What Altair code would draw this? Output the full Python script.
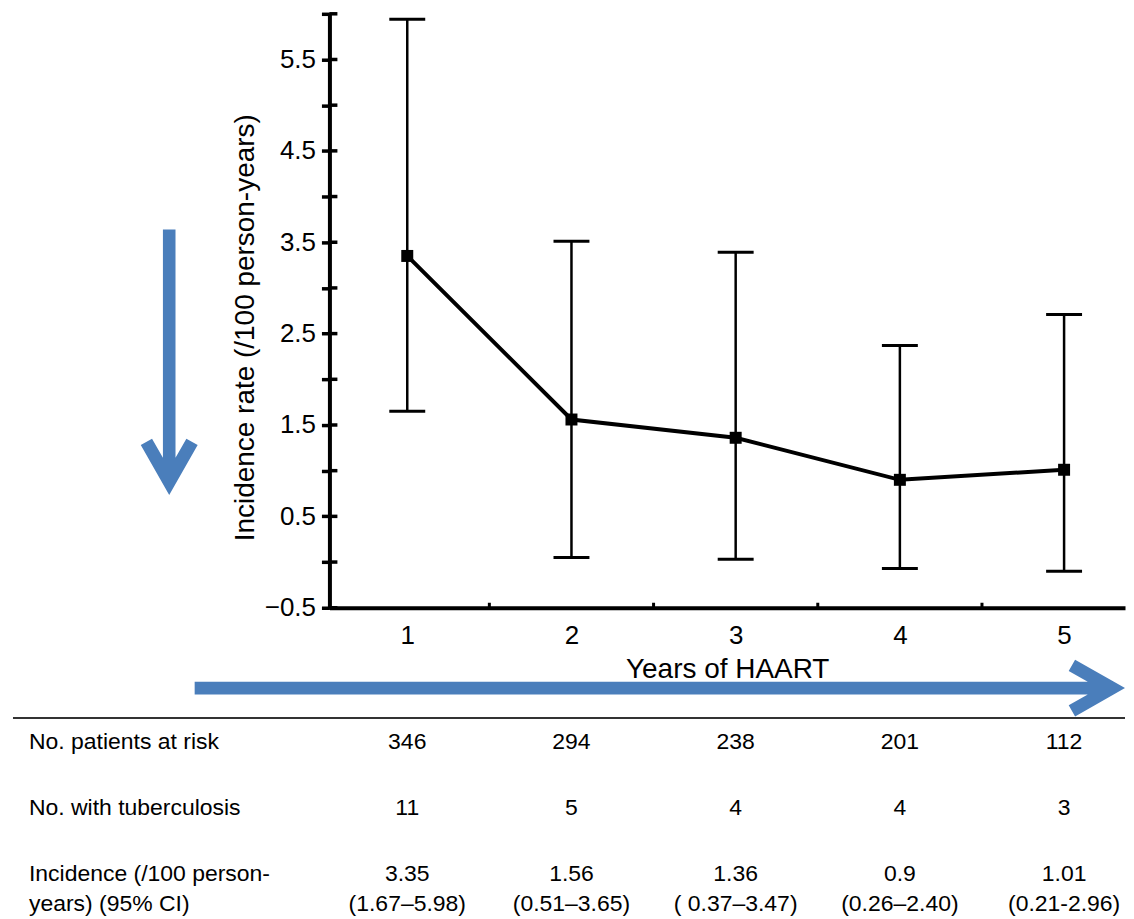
import altair as alt
import pandas as pd

# ---- data ----
years = [1, 2, 3, 4, 5]
incidence = [3.35, 1.56, 1.36, 0.9, 1.01]
ci_low = [1.65, 0.05, 0.03, -0.07, -0.10]
ci_high = [5.94, 3.51, 3.39, 2.37, 2.71]
patients_at_risk = ["346", "294", "238", "201", "112"]
with_tb = ["11", "5", "4", "4", "3"]
incidence_text = ["3.35", "1.56", "1.36", "0.9", "1.01"]
ci_text = ["(1.67–5.98)", "(0.51–3.65)", "( 0.37–3.47)", "(0.26–2.40)", "(0.21-2.96)"]
row_labels = ["No. patients at risk", "No. with tuberculosis",
              "Incidence (/100 person-", "years) (95% CI)"]
y_tick_values = [-0.5, 0, 0.5, 1, 1.5, 2, 2.5, 3, 3.5, 4, 4.5, 5, 5.5, 6]
x_tick_values = [1, 2, 3, 4, 5]
x_minor_ticks = [1.5, 2.5, 3.5, 4.5]
x_title = "Years of HAART"
y_title = "Incidence rate (/100 person-years)"

FONT = "Liberation Sans"
BLUE = "#4a7ebb"

df = pd.DataFrame({
    "year": years, "rate": incidence, "lo": ci_low, "hi": ci_high,
    "patients": patients_at_risk, "tb": with_tb,
    "inc": incidence_text, "ci": ci_text,
})
one = pd.DataFrame({"k": [0]})

xscale = alt.Scale(domain=[0.526, 5.371], nice=False, zero=False)
yscale = alt.Scale(domain=[-0.5, 6.0], nice=False, zero=False)

xaxis = alt.Axis(values=x_tick_values, format="d", ticks=False, tickSize=0,
                 domainWidth=4, domainColor="black", labelFont=FONT,
                 labelFontSize=26, labelColor="black", labelPadding=15,
                 labelFlush=False, title=x_title, titleFont=FONT,
                 titleFontSize=28, titleFontWeight="normal", titleColor="black",
                 titleY=48, grid=False)
yaxis = alt.Axis(values=y_tick_values, format=".1f",
                 labelExpr="abs(datum.value * 2) % 2 == 1 ? datum.label : ''",
                 tickSize=8, tickWidth=3.5, tickColor="black",
                 domainWidth=4, domainColor="black", labelFont=FONT,
                 labelFontSize=26, labelColor="black", labelPadding=6,
                 labelFlush=False, title=y_title, titleFont=FONT,
                 titleFontSize=28, titleFontWeight="normal", titleColor="black",
                 titleX=-70, titleY=314, grid=False)

x_enc = alt.X("year:Q", scale=xscale, axis=xaxis)
base = alt.Chart(df)

bars = base.mark_rule(color="black", strokeWidth=2.5).encode(
    x=x_enc, y=alt.Y("lo:Q", scale=yscale, axis=yaxis), y2="hi:Q")
cap_hi = base.mark_rule(color="black", strokeWidth=3, xOffset=-18, x2Offset=18).encode(
    x=x_enc, x2="year:Q", y=alt.Y("hi:Q", scale=yscale, axis=yaxis))
cap_lo = base.mark_rule(color="black", strokeWidth=3, xOffset=-18, x2Offset=18).encode(
    x=x_enc, x2="year:Q", y=alt.Y("lo:Q", scale=yscale, axis=yaxis))
line = base.mark_line(color="black", strokeWidth=4).encode(
    x=x_enc, y=alt.Y("rate:Q", scale=yscale, axis=yaxis))
pts = base.mark_square(color="black", size=144, opacity=1).encode(
    x=x_enc, y=alt.Y("rate:Q", scale=yscale, axis=yaxis))

y_inner = alt.Chart(pd.DataFrame({"v": y_tick_values})).mark_rule(
    color="black", strokeWidth=3.5).encode(
    y=alt.Y("v:Q", scale=yscale, axis=yaxis), x=alt.value(0), x2=alt.value(8))
x_inner = alt.Chart(pd.DataFrame({"v": x_minor_ticks})).mark_rule(
    color="black", strokeWidth=3).encode(
    x=alt.X("v:Q", scale=xscale, axis=xaxis), y=alt.value(590), y2=alt.value(595))

def value_row(field, ypix):
    return base.mark_text(font=FONT, fontSize=23, color="black", align="center",
                          baseline="alphabetic").encode(
        x=x_enc, y=alt.value(ypix), text=f"{field}:N")

def label_row(txt, ypix):
    return alt.Chart(one).mark_text(font=FONT, fontSize=23, color="black",
                                    align="left", baseline="alphabetic").encode(
        x=alt.value(-301), y=alt.value(ypix), text=alt.value(txt))

row_y = [737, 803, 869, 898.5]
table = [
    value_row("patients", row_y[0]), value_row("tb", row_y[1]),
    value_row("inc", row_y[2]), value_row("ci", row_y[3]),
] + [label_row(t, yy) for t, yy in zip(row_labels, row_y)]

divider = alt.Chart(one).mark_rule(color="#333333", strokeWidth=2).encode(
    x=alt.value(-317), x2=alt.value(797), y=alt.value(705.5))

V_ARROW = ("M -6.3 -266 L -6.3 -37.3 L -17.2 -56.4 L -28.5 -50 L 0 0 "
           "L 28.5 -50 L 17.2 -56.4 L 6.3 -37.3 L 6.3 -266 Z")
H_ARROW = ("M -932 -6.3 L -37.3 -6.3 L -56.4 -17.2 L -50 -28.5 L 0 0 "
           "L -50 28.5 L -56.4 17.2 L -37.3 6.3 L -932 6.3 Z")
v_arrow = alt.Chart(one).mark_point(shape=V_ARROW, size=4, filled=True, color=BLUE,
                                    opacity=1, strokeWidth=0).encode(
    x=alt.value(-160.5), y=alt.value(482))
h_arrow = alt.Chart(one).mark_point(shape=H_ARROW, size=4, filled=True, color=BLUE,
                                    opacity=1, strokeWidth=0).encode(
    x=alt.value(797), y=alt.value(675.5))

chart = alt.layer(
    bars, cap_hi, cap_lo, line, pts, y_inner, x_inner, *table, divider,
    v_arrow, h_arrow,
).properties(
    width=797, height=595,
    padding={"left": 4, "top": 3, "right": 0, "bottom": 0},
    background="white",
).configure_view(stroke="transparent", strokeWidth=0)

chart.save("out.html", embed_options={"renderer": "svg", "actions": False})
